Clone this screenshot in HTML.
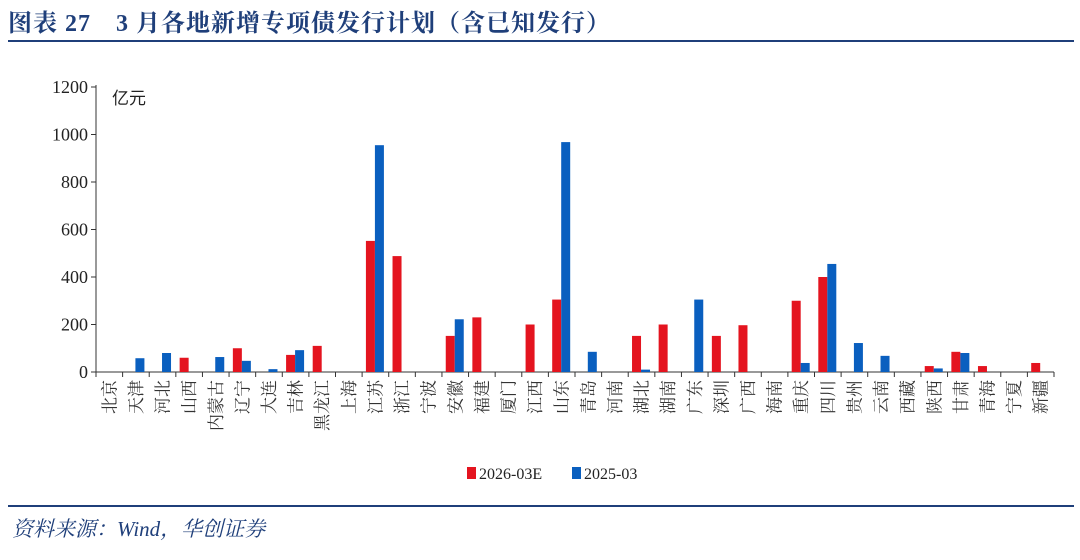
<!DOCTYPE html>
<html><head><meta charset="utf-8">
<style>
body{margin:0;background:#fff;width:1080px;height:560px;overflow:hidden;font-family:"Liberation Serif","Noto Serif CJK SC",serif;}
#title{position:absolute;left:8px;top:3px;font-size:24px;font-weight:bold;color:#1f3f7a;letter-spacing:1px;}
#rule1{position:absolute;left:8px;top:40px;width:1066px;height:2px;background:#1f3f7a;}
#rule2{position:absolute;left:8px;top:505px;width:1066px;height:2px;background:#1f3f7a;}
#source{position:absolute;left:12px;top:513px;font-size:21px;font-style:italic;color:#1f3f7a;}
svg{position:absolute;left:0;top:0;}
</style></head><body>
<div id="title">图表 27　3 月各地新增专项债发行计划（含已知发行）</div>
<div id="rule1"></div>
<svg id="chart" width="1080" height="560"></svg>
<div id="rule2"></div>
<div id="source">资料来源：Wind，华创证券</div>
<script>
const categories=["北京","天津","河北","山西","内蒙古","辽宁","大连","吉林","黑龙江","上海","江苏","浙江","宁波","安徽","福建","厦门","江西","山东","青岛","河南","湖北","湖南","广东","深圳","广西","海南","重庆","四川","贵州","云南","西藏","陕西","甘肃","青海","宁夏","新疆"];
const series2026=[0,0,0,60,0,100,0,72,110,0,552,488,0,152,230,0,200,305,0,0,152,200,0,152,197,0,300,400,0,0,0,25,85,25,0,38];
const series2025=[0,58,80,0,63,47,12,92,0,0,955,0,0,222,0,0,0,968,85,0,10,0,305,0,0,0,38,455,122,68,0,15,80,0,0,0];
const yTicks=[0,200,400,600,800,1000,1200];
const NS="http://www.w3.org/2000/svg";
const svg=document.getElementById('chart');
const X0=96,X1=1054,Y0=372,Y1=87,YMAX=1200;
const bw=(X1-X0)/categories.length;
const y=v=>Y0-(v/YMAX)*(Y0-Y1);
const xc=i=>X0+(i+0.5)*bw;
function mk(t,a){const e=document.createElementNS(NS,t);for(const k in a)e.setAttribute(k,a[k]);svg.appendChild(e);return e;}
let e;
e=mk('line',{x1:X0,y1:Y1-2,x2:X0,y2:Y0,stroke:'#333','stroke-width':1});


e=mk('line',{x1:X0,y1:Y0,x2:X1,y2:Y0,stroke:'#333','stroke-width':1});


yTicks.forEach(t=>{
 e=mk('line',{x1:X0-5,y1:y(t),x2:X0,y2:y(t),stroke:'#333'});
 
 
 e=mk('text',{x:X0-8,y:y(t)+6,'text-anchor':'end','font-size':18,fill:'#222'});e.textContent=t;
 
 
});
e=mk('text',{x:112,y:104,'font-size':17,fill:'#222','font-family':'"Liberation Sans","Noto Sans CJK SC",sans-serif'});e.textContent='亿元';


for(let i=0;i<=categories.length;i++){
 e=mk('line',{x1:X0+i*bw,y1:Y0,x2:X0+i*bw,y2:Y0+5,stroke:'#333'});
 
 
}
categories.forEach((c,i)=>{
 const tx=xc(i)+6, ty=Y0+8;
 e=mk('text',{x:tx,y:ty,'font-size':17,fill:'#333','text-anchor':'end','font-family':'"Noto Serif CJK SC",serif',transform:`rotate(-90 ${tx} ${ty})`});e.textContent=c;
 
 
 if(series2026[i]>0){
  e=mk('rect',{x:xc(i)-9.5,y:y(series2026[i]),width:9,height:Y0-y(series2026[i]),fill:'#e4141f'});
  
  
 }
 if(series2025[i]>0){
  e=mk('rect',{x:xc(i)-0.5,y:y(series2025[i]),width:9,height:Y0-y(series2025[i]),fill:'#0a5fbf'});
  
  
 }
});
e=mk('rect',{x:467,y:467,width:9,height:12,fill:'#e4141f'});


e=mk('text',{x:479,y:479,'font-size':16,fill:'#222'});e.textContent='2026-03E';


e=mk('rect',{x:572,y:467,width:9,height:12,fill:'#0a5fbf'});


e=mk('text',{x:584,y:479,'font-size':16,fill:'#222'});e.textContent='2025-03';


</script>
</body></html>
